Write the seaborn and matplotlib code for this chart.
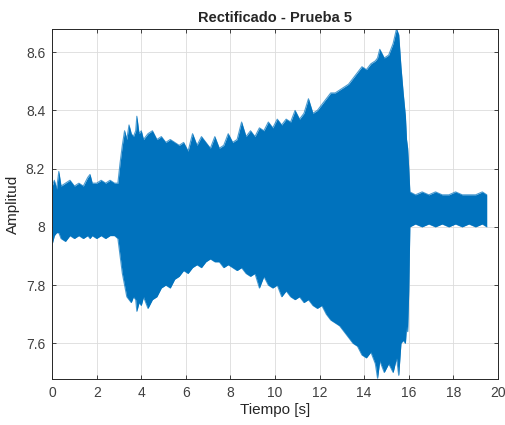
import numpy as np
import pandas as pd
import matplotlib.pyplot as plt
import seaborn as sns

# upper / lower envelope of the rectified signal
time_s = [0.0, 0.1, 0.2, 0.3, 0.4, 0.6, 0.8, 1.0, 1.2, 1.4, 1.6, 1.7, 1.8, 2.0,
          2.2, 2.4, 2.6, 2.8, 2.95, 3.05, 3.15, 3.25, 3.35, 3.45, 3.55, 3.65,
          3.75, 3.8, 3.9, 4.0, 4.1, 4.3, 4.5, 4.7, 4.9, 5.1, 5.3, 5.5, 5.7,
          5.9, 6.1, 6.3, 6.5, 6.7, 6.9, 7.1, 7.3, 7.5, 7.7, 7.9, 8.1, 8.3,
          8.5, 8.7, 8.9, 9.1, 9.3, 9.5, 9.7, 9.9, 10.1, 10.3, 10.5, 10.7,
          10.9, 11.1, 11.3, 11.5, 11.7, 11.9, 12.1, 12.3, 12.5, 12.7, 12.9,
          13.1, 13.3, 13.5, 13.7, 13.9, 14.1, 14.3, 14.5, 14.6, 14.7, 14.9,
          15.1, 15.3, 15.45, 15.55, 15.65, 15.75, 15.85, 15.9, 15.95, 16.0,
          16.05, 16.3, 16.6, 16.9, 17.2, 17.5, 17.8, 18.1, 18.4, 18.7, 19.0,
          19.3, 19.5]
upper = [8.14, 8.16, 8.13, 8.19, 8.14, 8.15, 8.16, 8.14, 8.15, 8.14, 8.17, 8.18,
         8.15, 8.15, 8.16, 8.15, 8.16, 8.15, 8.15, 8.22, 8.28, 8.33, 8.30, 8.35,
         8.32, 8.31, 8.33, 8.38, 8.32, 8.33, 8.30, 8.32, 8.33, 8.30, 8.31, 8.29,
         8.30, 8.29, 8.28, 8.29, 8.26, 8.32, 8.28, 8.31, 8.29, 8.27, 8.31, 8.27,
         8.28, 8.32, 8.29, 8.30, 8.36, 8.31, 8.33, 8.31, 8.34, 8.33, 8.36, 8.34,
         8.37, 8.35, 8.37, 8.36, 8.40, 8.37, 8.39, 8.44, 8.39, 8.40, 8.42, 8.44,
         8.46, 8.46, 8.47, 8.48, 8.49, 8.51, 8.53, 8.55, 8.54, 8.56, 8.57, 8.58,
         8.61, 8.58, 8.59, 8.63, 8.68, 8.66, 8.55, 8.46, 8.38, 8.30, 8.27, 8.20,
         8.12, 8.11, 8.12, 8.11, 8.12, 8.11, 8.11, 8.12, 8.11, 8.11, 8.11,
         8.12, 8.11]
lower = [7.94, 7.97, 7.98, 7.98, 7.96, 7.95, 7.97, 7.96, 7.97, 7.96, 7.97, 7.96,
         7.97, 7.96, 7.97, 7.96, 7.97, 7.97, 7.96, 7.90, 7.84, 7.80, 7.76, 7.75,
         7.74, 7.76, 7.75, 7.71, 7.74, 7.73, 7.76, 7.72, 7.75, 7.76, 7.79, 7.80,
         7.79, 7.82, 7.83, 7.85, 7.84, 7.86, 7.87, 7.86, 7.88, 7.89, 7.88, 7.88,
         7.86, 7.87, 7.86, 7.85, 7.86, 7.84, 7.83, 7.84, 7.79, 7.83, 7.80, 7.79,
         7.80, 7.76, 7.78, 7.76, 7.75, 7.76, 7.74, 7.75, 7.73, 7.72, 7.73, 7.70,
         7.68, 7.67, 7.66, 7.64, 7.62, 7.60, 7.59, 7.56, 7.55, 7.57, 7.53, 7.48,
         7.54, 7.50, 7.53, 7.50, 7.55, 7.49, 7.60, 7.61, 7.60, 7.66, 7.64, 7.78,
         8.00, 8.01, 8.00, 8.01, 8.00, 8.01, 8.00, 8.01, 8.00, 8.01, 8.00,
         8.01, 8.00]

x_ticks = [0, 2, 4, 6, 8, 10, 12, 14, 16, 18, 20]
y_ticks = [7.6, 7.8, 8.0, 8.2, 8.4, 8.6]
y_labels = ['7.6', '7.8', '8', '8.2', '8.4', '8.6']

df = pd.DataFrame({'t': time_s, 'hi': upper, 'lo': lower})

sns.set_theme(style="whitegrid")
plt.rcParams['font.family'] = ['Liberation Sans', 'DejaVu Sans']

blue = '#0072BD'
fig = plt.figure(figsize=(5.06, 4.25), dpi=100)
ax = fig.add_axes([0.103, 0.108, 0.881, 0.824])

ax.fill_between(df['t'], df['lo'], df['hi'], color=blue, lw=0)
sns.lineplot(data=df, x='t', y='hi', ax=ax, color=blue, lw=0.8, alpha=0.7)
sns.lineplot(data=df, x='t', y='lo', ax=ax, color=blue, lw=0.8, alpha=0.7)

ax.set_xlim(0, 20)
ax.set_ylim(7.477, 8.68)
ax.set_xticks(x_ticks)
ax.set_yticks(y_ticks)
ax.set_yticklabels(y_labels)
ax.set_title('Rectificado - Prueba 5', fontsize=10.5, fontweight='bold', pad=5)
ax.set_xlabel('Tiempo [s]', fontsize=11, color='#262626', labelpad=2)
ax.set_ylabel('Amplitud', fontsize=11, color='#262626', labelpad=4)

ax.set_facecolor('white')
ax.grid(True, color='#dcdcdc', lw=0.6)
for s in ax.spines.values():
    s.set_color('#262626')
    s.set_linewidth(0.7)
    s.set_visible(True)
ax.tick_params(direction='in', length=3, width=0.6, colors='#262626',
               labelsize=10, top=True, right=True, bottom=True, left=True, pad=5)
for lab in ax.get_xticklabels() + ax.get_yticklabels():
    lab.set_color('#404040')

fig.savefig('out.png', dpi=100)
